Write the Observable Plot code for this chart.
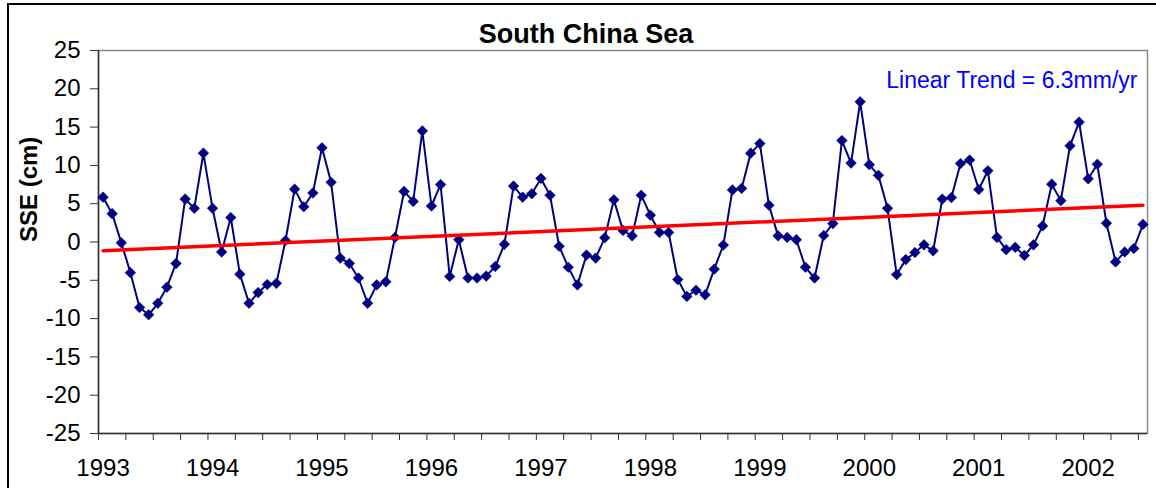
<!DOCTYPE html>
<html>
<head>
<meta charset="utf-8">
<script src="https://cdn.jsdelivr.net/npm/d3@7"></script>
<script src="https://cdn.jsdelivr.net/npm/@observablehq/plot@0.6"></script>
<style>
  html, body { margin: 0; padding: 0; background: #fff; overflow: hidden; width: 1156px; height: 488px; }
  #outer { position: absolute; left: 7px; top: 3px; width: 1300px; height: 700px;
           border-left: 2px solid #000; border-top: 2px solid #000; pointer-events: none; }
  #chart { position: absolute; left: 0; top: 0; width: 1156px; }
  #title { box-sizing: border-box; height: 40px; padding-top: 19px; padding-left: 16px; line-height: 21px;
           text-align: center; font: bold 27px "Liberation Sans", Arial, sans-serif; color: #000; white-space: nowrap; }
</style>
</head>
<body>
<div id="chart">
  <div id="title">South China Sea</div>
  <div id="plot"></div>
</div>
<div id="outer"></div>
<script>
// Monthly sea surface elevation anomalies, Jan 1993 – Jul 2002 (cm)
const startYear = 1993;
const yearLabels = ["1993", "1994", "1995", "1996", "1997", "1998", "1999", "2000", "2001", "2002"];
const sse = [
  5.85, 3.7, -0.1, -4.0, -8.55, -9.5, -8.0, -5.9, -2.8, 5.6, 4.4, 11.6,      // 1993
  4.4, -1.3, 3.2, -4.2, -8.0, -6.6, -5.55, -5.4, 0.2, 6.9, 4.6, 6.4,         // 1994
  12.3, 7.8, -2.1, -2.8, -4.7, -8.0, -5.6, -5.2, 0.6, 6.6, 5.3, 14.5,        // 1995
  4.7, 7.5, -4.5, 0.3, -4.7, -4.7, -4.45, -3.2, -0.3, 7.3, 5.85, 6.3,        // 1996
  8.3, 6.1, -0.55, -3.3, -5.6, -1.7, -2.1, 0.55, 5.5, 1.5, 0.8, 6.1,         // 1997
  3.5, 1.25, 1.25, -4.9, -7.1, -6.3, -6.9, -3.55, -0.4, 6.8, 7.0, 11.6,      // 1998
  12.85, 4.8, 0.8, 0.6, 0.3, -3.3, -4.7, 0.85, 2.4, 13.25, 10.3, 18.3,       // 1999
  10.1, 8.7, 4.4, -4.25, -2.3, -1.37, -0.37, -1.15, 5.6, 5.8, 10.25, 10.7,   // 2000
  6.85, 9.3, 0.6, -1.0, -0.7, -1.75, -0.37, 2.1, 7.55, 5.4, 12.55, 15.65,    // 2001
  8.25, 10.15, 2.45, -2.6, -1.3, -0.85, 2.3                                  // 2002
];
const yTicks = [-25, -20, -15, -10, -5, 0, 5, 10, 15, 20, 25];
const trendLabel = "Linear Trend = 6.3mm/yr";
const yLabel = "SSE (cm)";

const data = sse.map((v, i) => ({i, v}));
const n = sse.length;

const chart = Plot.plot({
  width: 1156,
  height: 448,
  marginLeft: 98,
  marginRight: 9,
  marginTop: 10,
  marginBottom: 55,
  style: {fontFamily: "'Liberation Sans', Arial, sans-serif", overflow: "visible", background: "transparent", color: "#000"},
  x: {domain: [-0.5, n - 0.5]},
  y: {domain: [-25, 25]},
  marks: [
    Plot.frame({stroke: "#8a8a8a", strokeWidth: 1.5}),
    Plot.axisY(yTicks, {tickSize: 8, tickPadding: 10, fontSize: 24, stroke: "#333", tickFormat: (d) => String(d), label: null}),
    Plot.axisX(d3.range(-0.5, n, 3), {tickSize: 7, tickFormat: () => "", stroke: "#333", label: null}),
    Plot.axisX(d3.range(0, n, 12), {tickSize: 0, tickPadding: 25, tickFormat: (d) => yearLabels[d / 12], fontSize: 24, label: null}),
    Plot.ruleX([-0.5], {stroke: "#333", strokeWidth: 1.5}),
    Plot.ruleY([-25], {stroke: "#333", strokeWidth: 1.5}),
    Plot.line(data, {x: "i", y: "v", stroke: "#000080", strokeWidth: 2}),
    Plot.dot(data, {x: "i", y: "v", symbol: "diamond2", r: 4.8, fill: "#000080", stroke: "#000080", strokeWidth: 0.5}),
    Plot.linearRegressionY(data, {x: "i", y: "v", ci: 0, stroke: "#ff0000", strokeWidth: 3.5}),
    Plot.text([trendLabel], {frameAnchor: "top-right", dx: -10, dy: 21, lineAnchor: "top", fill: "#0000ff", fontSize: 23}),
    Plot.text([yLabel], {frameAnchor: "left", dx: -69, rotate: -90, fontSize: 24, fontWeight: "bold", fill: "#000"})
  ]
});
document.getElementById("plot").appendChild(chart);
</script>
</body>
</html>
